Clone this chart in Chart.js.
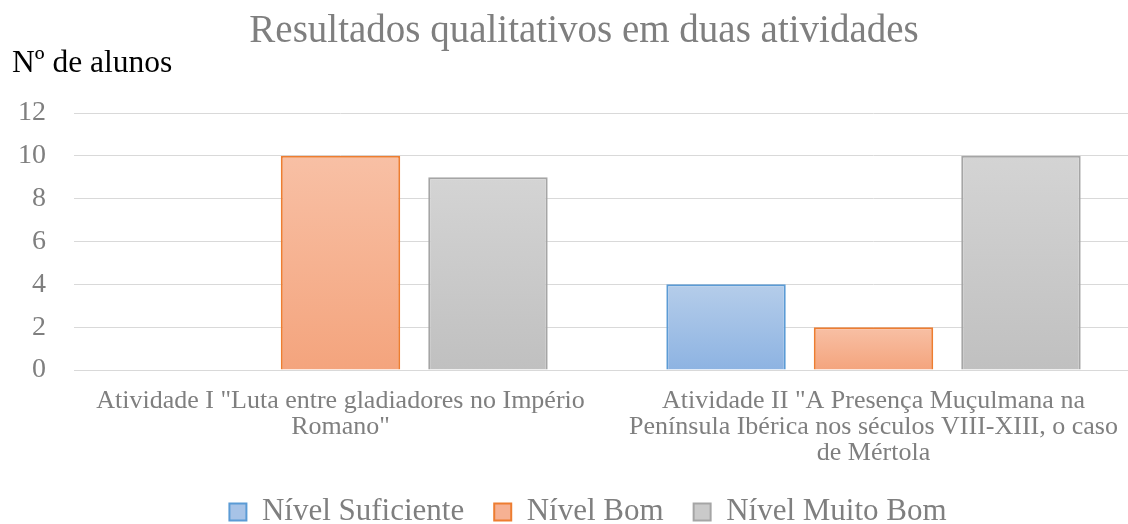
<!DOCTYPE html>
<html>
<head>
<meta charset="utf-8">
<script src="https://cdn.jsdelivr.net/npm/chart.js@4.4.1/dist/chart.umd.min.js"></script>
<style>
html,body{margin:0;padding:0;background:#fff;overflow:hidden;}
#wrap{width:1128px;height:524px;overflow:hidden;position:relative;}
canvas{display:block;}
</style>
</head>
<body>
<div id="wrap"><canvas id="c" width="1140" height="524"></canvas></div>
<script>
const chartTitle = 'Resultados qualitativos em duas atividades';
const yAxisLabel = 'Nº de alunos';
const categories = [
  ['Atividade I "Luta entre gladiadores no Império', 'Romano"'],
  ['Atividade II "A Presença Muçulmana na', 'Península Ibérica nos séculos VIII-XIII, o caso', 'de Mértola']
];
const seriesNames = ['Nível Suficiente', 'Nível Bom', 'Nível Muito Bom'];
const nivelSuficiente = [0, 4];
const nivelBom = [10, 2];
const nivelMuitoBom = [9, 10];
const yTicks = [0, 2, 4, 6, 8, 10, 12];

const FONT = "'Liberation Serif', 'Times New Roman', serif";
const GRAY_TEXT = '#7f7f7f';
const LEGEND_PAD = 30;

function grad(top, bottom) {
  return (ctx) => {
    const chart = ctx.chart;
    if (!chart.chartArea || ctx.type !== 'data') return bottom;
    const v = ctx.raw;
    if (!v) return bottom;
    const ys = chart.scales.y;
    const y0 = ys.getPixelForValue(v), y1 = ys.getPixelForValue(0);
    const g = chart.ctx.createLinearGradient(0, y0, 0, y1);
    g.addColorStop(0, top);
    g.addColorStop(1, bottom);
    return g;
  };
}

const styles = [
  {top: '#b5cdea', bottom: '#8db3e2', border: '#5b9bd5', legend: '#a7c3e7'},
  {top: '#f8c0a5', bottom: '#f4a47d', border: '#ed7d31', legend: '#f6b193'},
  {top: '#d4d4d4', bottom: '#c0c0c0', border: '#a5a5a5', legend: '#cacaca'}
];
const seriesData = [nivelSuficiente, nivelBom, nivelMuitoBom];

const textPlugin = {
  id: 'texts',
  afterLayout(chart) {
    // shift the centred legend block a little to the right, as in the original
    if (chart.legend) { chart.legend.left += 18; chart.legend.right += 18; }
  },
  afterDraw(chart) {
    const c = chart.ctx;
    c.save();
    c.fillStyle = GRAY_TEXT;
    c.font = "39px " + FONT;
    c.textAlign = 'center';
    c.textBaseline = 'alphabetic';
    c.fillText(chartTitle, 584, 42);
    c.fillStyle = '#000';
    c.font = "31.5px " + FONT;
    c.textAlign = 'left';
    c.fillText(yAxisLabel, 12, 72);
    c.restore();
  }
};

new Chart(document.getElementById('c'), {
  type: 'bar',
  data: {
    labels: categories,
    datasets: seriesNames.map((n, i) => ({
      label: n,
      data: seriesData[i],
      backgroundColor: grad(styles[i].top, styles[i].bottom),
      borderColor: styles[i].border,
      borderWidth: 2,
      borderSkipped: 'bottom',
      barPercentage: 0.81,
      categoryPercentage: 0.83
    }))
  },
  options: {
    responsive: false,
    animation: false,
    devicePixelRatio: 1,
    layout: {padding: {top: 113, left: 0, right: 0, bottom: -13.5}},
    plugins: {
      title: {display: false},
      tooltip: {enabled: false},
      legend: {
        position: 'bottom',
        labels: {
          font: {family: FONT, size: 31},
          color: GRAY_TEXT,
          boxWidth: 17,
          boxHeight: 17,
          padding: LEGEND_PAD,
          generateLabels: (chart) => seriesNames.map((n, i) => ({
            text: n,
            fillStyle: styles[i].legend,
            strokeStyle: styles[i].border,
            lineWidth: 2,
            fontColor: GRAY_TEXT,
            datasetIndex: i,
            hidden: false
          }))
        }
      }
    },
    scales: {
      x: {
        afterFit: (s) => { s.height = 96.5; },
        grid: {display: false},
        border: {display: true, color: '#d9d9d9', width: 1},
        ticks: {
          font: {family: FONT, size: 26, lineHeight: 1.0},
          color: GRAY_TEXT,
          padding: 10,
          maxRotation: 0,
          autoSkip: false
        }
      },
      y: {
        min: 0,
        max: 12,
        afterFit: (s) => { s.width = 74; },
        afterBuildTicks: (s) => { s.ticks = yTicks.map(v => ({value: v})); },
        border: {display: false},
        grid: {color: '#d9d9d9', lineWidth: 1, drawTicks: false},
        ticks: {
          font: {family: FONT, size: 28},
          color: GRAY_TEXT,
          padding: 28
        }
      }
    }
  },
  plugins: [textPlugin]
});
</script>
</body>
</html>
